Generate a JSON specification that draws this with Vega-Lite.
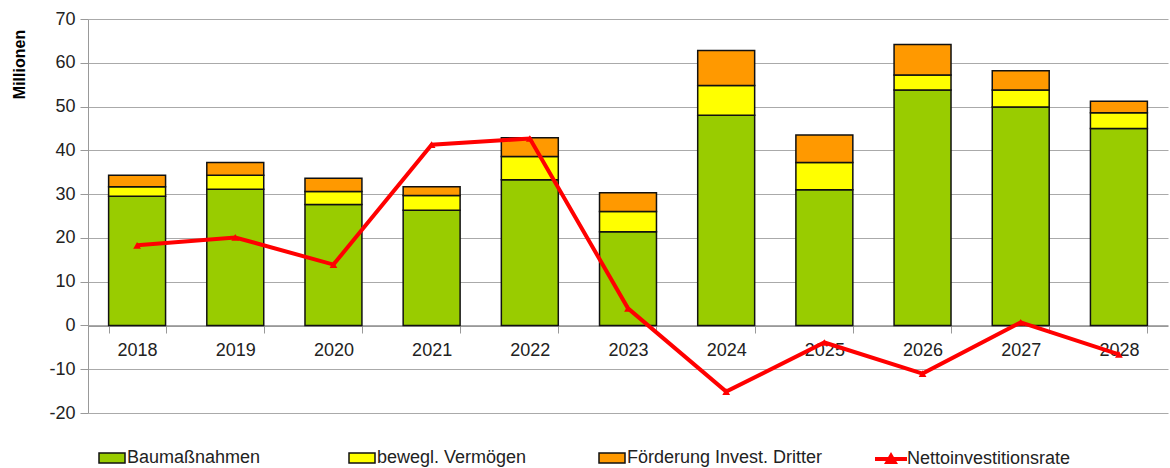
{
  "$schema": "https://vega.github.io/schema/vega-lite/v6.json",
  "autosize": {"type": "none"},
  "width": 1080,
  "height": 394,
  "padding": {"left": 88, "top": 19, "right": 2, "bottom": 55},
  "background": "white",
  "config": {
    "view": {"stroke": null},
    "font": "Liberation Sans",
    "axis": {"labelFont": "Liberation Sans", "labelColor": "#222222", "labelFontSize": 17},
    "legend": {"labelFont": "Liberation Sans", "labelFontSize": 18, "labelColor": "#222222", "labelLimit": 400}
  },
  "datasets": {
    "bars": [
      {"year": "2018", "series": "Baumaßnahmen", "pos": 1, "value": 29.5},
      {"year": "2018", "series": "bewegl. Vermögen", "pos": 2, "value": 2.2},
      {"year": "2018", "series": "Förderung Invest. Dritter", "pos": 3, "value": 2.6},
      {"year": "2019", "series": "Baumaßnahmen", "pos": 1, "value": 31.1},
      {"year": "2019", "series": "bewegl. Vermögen", "pos": 2, "value": 3.2},
      {"year": "2019", "series": "Förderung Invest. Dritter", "pos": 3, "value": 2.9},
      {"year": "2020", "series": "Baumaßnahmen", "pos": 1, "value": 27.6},
      {"year": "2020", "series": "bewegl. Vermögen", "pos": 2, "value": 3.0},
      {"year": "2020", "series": "Förderung Invest. Dritter", "pos": 3, "value": 3.0},
      {"year": "2021", "series": "Baumaßnahmen", "pos": 1, "value": 26.3},
      {"year": "2021", "series": "bewegl. Vermögen", "pos": 2, "value": 3.4},
      {"year": "2021", "series": "Förderung Invest. Dritter", "pos": 3, "value": 2.0},
      {"year": "2022", "series": "Baumaßnahmen", "pos": 1, "value": 33.3},
      {"year": "2022", "series": "bewegl. Vermögen", "pos": 2, "value": 5.3},
      {"year": "2022", "series": "Förderung Invest. Dritter", "pos": 3, "value": 4.3},
      {"year": "2023", "series": "Baumaßnahmen", "pos": 1, "value": 21.4},
      {"year": "2023", "series": "bewegl. Vermögen", "pos": 2, "value": 4.6},
      {"year": "2023", "series": "Förderung Invest. Dritter", "pos": 3, "value": 4.3},
      {"year": "2024", "series": "Baumaßnahmen", "pos": 1, "value": 48.0},
      {"year": "2024", "series": "bewegl. Vermögen", "pos": 2, "value": 6.8},
      {"year": "2024", "series": "Förderung Invest. Dritter", "pos": 3, "value": 8.0},
      {"year": "2025", "series": "Baumaßnahmen", "pos": 1, "value": 31.0},
      {"year": "2025", "series": "bewegl. Vermögen", "pos": 2, "value": 6.2},
      {"year": "2025", "series": "Förderung Invest. Dritter", "pos": 3, "value": 6.3},
      {"year": "2026", "series": "Baumaßnahmen", "pos": 1, "value": 53.8},
      {"year": "2026", "series": "bewegl. Vermögen", "pos": 2, "value": 3.4},
      {"year": "2026", "series": "Förderung Invest. Dritter", "pos": 3, "value": 7.0},
      {"year": "2027", "series": "Baumaßnahmen", "pos": 1, "value": 49.9},
      {"year": "2027", "series": "bewegl. Vermögen", "pos": 2, "value": 3.9},
      {"year": "2027", "series": "Förderung Invest. Dritter", "pos": 3, "value": 4.4},
      {"year": "2028", "series": "Baumaßnahmen", "pos": 1, "value": 45.0},
      {"year": "2028", "series": "bewegl. Vermögen", "pos": 2, "value": 3.6},
      {"year": "2028", "series": "Förderung Invest. Dritter", "pos": 3, "value": 2.6}
    ],
    "rate": [
      {"year": "2018", "rate": 18.3},
      {"year": "2019", "rate": 20.1},
      {"year": "2020", "rate": 13.9},
      {"year": "2021", "rate": 41.3},
      {"year": "2022", "rate": 42.7},
      {"year": "2023", "rate": 3.9},
      {"year": "2024", "rate": -15.1},
      {"year": "2025", "rate": -3.9},
      {"year": "2026", "rate": -11.0},
      {"year": "2027", "rate": 0.7},
      {"year": "2028", "rate": -6.6}
    ]
  },
  "encoding": {
    "x": {
      "field": "year", "type": "nominal",
      "scale": {"paddingInner": 0.42, "paddingOuter": 0.21},
      "axis": {
        "title": null, "labelAngle": 0, "offset": -87, "tickBand": "extent",
        "domainColor": "#999999", "tickColor": "#999999", "tickSize": 7,
        "labelPadding": 8, "labelFontSize": 18, "zindex": 0, "grid": false
      }
    }
  },
  "layer": [
    {
      "data": {"name": "bars"},
      "mark": {"type": "bar", "stroke": "#111111", "strokeWidth": 1.5},
      "encoding": {
        "y": {
          "field": "value", "type": "quantitative", "aggregate": "sum", "stack": "zero",
          "scale": {"domain": [-20, 70], "nice": false, "zero": false},
          "axis": {
            "title": "Millionen", "titleFontWeight": "bold", "titleFontSize": 16,
            "titleAngle": -90, "titleX": -69, "titleY": 45, "titleAlign": "center", "titleBaseline": "middle",
            "values": [-20, -10, 0, 10, 20, 30, 40, 50, 60, 70],
            "labelExpr": "replace(datum.label, '\u2212', '-')",
            "gridColor": "#aaaaaa", "domainColor": "#999999", "tickColor": "#999999",
            "tickSize": 8, "labelPadding": 5, "labelFontSize": 18
          }
        },
        "fill": {
          "field": "series", "type": "nominal",
          "scale": {
            "domain": ["Baumaßnahmen", "bewegl. Vermögen", "Förderung Invest. Dritter"],
            "range": ["#99CC00", "#FFFF00", "#FF9900"]
          },
          "legend": {
            "title": null, "orient": "none", "direction": "horizontal",
            "legendX": 13, "legendY": 428, "columns": 3, "gridAlign": "all", "columnPadding": 23,
            "symbolType": "M-1.3,-0.5H1.3V0.5H-1.3Z", "symbolSize": 400,
            "symbolStrokeColor": "#111111", "symbolStrokeWidth": 1.5, "labelOffset": 4
          }
        },
        "order": {"field": "pos", "type": "quantitative"}
      }
    },
    {
      "data": {"name": "rate"},
      "mark": {"type": "line", "strokeWidth": 4},
      "encoding": {
        "y": {"field": "rate", "type": "quantitative"},
        "stroke": {
          "datum": "Nettoinvestitionsrate",
          "scale": {"range": ["#FF0000"]},
          "legend": {
            "title": null, "orient": "none", "legendX": 791, "legendY": 428,
            "symbolType": "M-1.6,0H1.6M-0.35,0.3L0,-0.3L0.35,0.3Z", "symbolSize": 400,
            "symbolStrokeWidth": 4, "symbolFillColor": "#FF0000", "labelOffset": 4
          }
        }
      }
    },
    {
      "data": {"name": "rate"},
      "mark": {"type": "point", "shape": "triangle-up", "filled": true, "color": "#FF0000", "size": 60, "opacity": 1},
      "encoding": {
        "y": {"field": "rate", "type": "quantitative"}
      }
    }
  ]
}
